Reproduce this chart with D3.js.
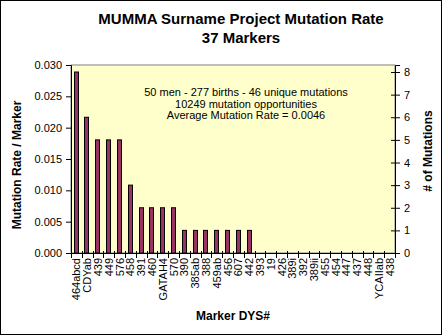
<!DOCTYPE html>
<html><head><meta charset="utf-8">
<script src="https://cdn.jsdelivr.net/npm/d3@7"></script>
<style>body{margin:0;background:#fff}svg{display:block;font-family:"Liberation Sans",Arial,sans-serif}</style>
</head><body><svg id="c" width="443" height="336"></svg>
<script>
const markers = ["464abcd","CDYab","439","449","576","458","391","460","GATAH4","570","390","385ab","388","459ab","456","607","442","393","19","426","389i","392","389ii","455","454","447","437","448","YCAIIab","438"];
const mutationCounts = [8,6,5,5,5,3,2,2,2,2,1,1,1,1,1,1,1,0,0,0,0,0,0,0,0,0,0,0,0,0];
const births = 277;
const leftTicks = [0,0.005,0.010,0.015,0.020,0.025,0.030];
const rightTicks = [0,1,2,3,4,5,6,7,8];
const titleLines = ["MUMMA Surname Project Mutation Rate","37 Markers"];
const noteLines = ["50 men - 277 births - 46 unique mutations","10249 mutation opportunities","Average Mutation Rate = 0.0046"];

const svg = d3.select("#c");
const L=71, R=395, T=65, B=253;
const x = d3.scaleBand().domain(markers).range([L,R]).paddingInner(0.5).paddingOuter(0.25);
const y = d3.scaleLinear().domain([0,0.03]).range([B,T]);
const y2 = d3.scaleLinear().domain([0,0.03*births]).range([B,T]);

svg.append("rect").attr("x",0.5).attr("y",0.5).attr("width",441).attr("height",334).attr("fill","#fff").attr("stroke","#000");
svg.append("rect").attr("x",L).attr("y",T).attr("width",R-L).attr("height",B-T).attr("fill","#FFFFCC").attr("stroke","#808080");

svg.selectAll(".bar").data(markers).join("rect")
  .attr("x",d=>Math.round(x(d))+0.5).attr("width",Math.round(x.bandwidth())-1)
  .attr("y",(d,i)=>y(mutationCounts[i]/births)).attr("height",(d,i)=>B-y(mutationCounts[i]/births))
  .attr("fill","#993366").attr("stroke","#000").attr("stroke-width",1);

// left axis
const la = svg.append("g").attr("transform",`translate(${L},0)`)
  .call(d3.axisLeft(y).tickValues(leftTicks).tickFormat(d3.format(".3f")).tickSize(5).tickPadding(4));
la.select(".domain").attr("stroke","#000");
la.selectAll("text").attr("font-size",11).attr("font-family","Liberation Sans, Arial").attr("fill","#000");
// right axis
const ra = svg.append("g").attr("transform",`translate(${R},0)`)
  .call(d3.axisRight(y2).tickValues(rightTicks).tickSize(5).tickPadding(4));
ra.selectAll(".tick line").attr("x1",-4);
ra.selectAll("text").attr("font-size",11).attr("font-family","Liberation Sans, Arial").attr("fill","#000");
// bottom axis
svg.append("line").attr("x1",L).attr("x2",R).attr("y1",B+0.5).attr("y2",B+0.5).attr("stroke","#000");
svg.selectAll(".xt").data(d3.range(markers.length+1)).join("line")
  .attr("x1",i=>Math.round(L+i*(R-L)/markers.length)+0.5).attr("x2",i=>Math.round(L+i*(R-L)/markers.length)+0.5)
  .attr("y1",B-2).attr("y2",B+5).attr("stroke","#000");
svg.selectAll(".xl").data(markers).join("text")
  .attr("transform",d=>`translate(${x(d)+x.bandwidth()/2+4},${B+5}) rotate(-90)`)
  .attr("text-anchor","end").attr("font-size",11).text(d=>d);

// titles
svg.selectAll(".tt").data(titleLines).join("text")
  .attr("x",241).attr("y",(d,i)=>24+i*19).attr("text-anchor","middle")
  .attr("font-size",15).attr("font-weight","bold").text(d=>d);
svg.selectAll(".nt").data(noteLines).join("text")
  .attr("x",246).attr("y",(d,i)=>96+i*11.5).attr("text-anchor","middle")
  .attr("font-size",11).text(d=>d);
svg.append("text").attr("transform",`translate(21,165) rotate(-90)`).attr("text-anchor","middle")
  .attr("font-size",12).attr("font-weight","bold").text("Mutation Rate / Marker");
svg.append("text").attr("transform",`translate(432,151) rotate(-90)`).attr("text-anchor","middle")
  .attr("font-size",12).attr("font-weight","bold").text("# of Mutations");
svg.append("text").attr("x",233).attr("y",320).attr("text-anchor","middle")
  .attr("font-size",12).attr("font-weight","bold").text("Marker DYS#");
</script></body></html>
